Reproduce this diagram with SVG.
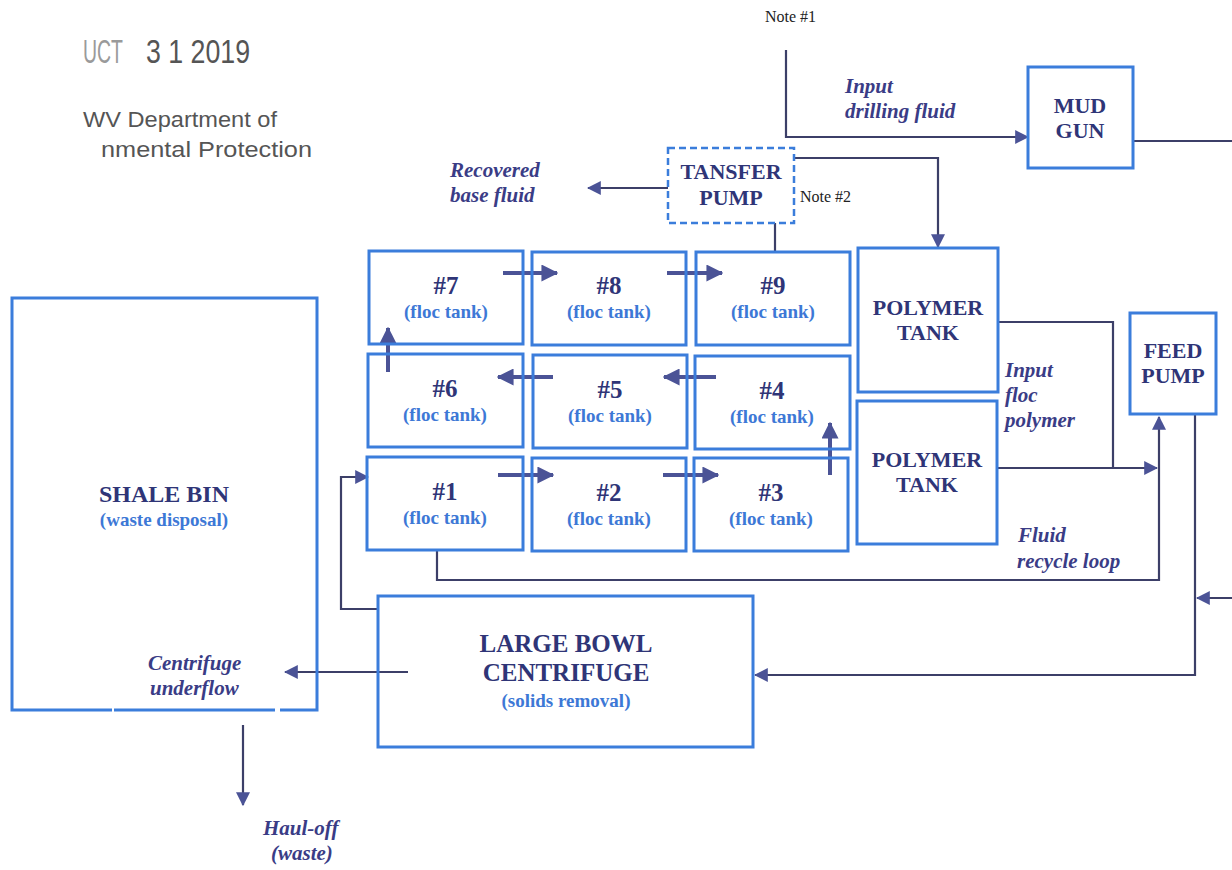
<svg xmlns="http://www.w3.org/2000/svg" width="1232" height="870" viewBox="0 0 1232 870">
<defs>
<style>
.box{fill:none;stroke:#3b7ddb;stroke-width:3}
.dash{fill:none;stroke:#3b7ddb;stroke-width:2.5;stroke-dasharray:7,4}
.t{font-family:"Liberation Serif",serif;font-weight:bold;fill:#2f3577;text-anchor:middle}
.s{font-family:"Liberation Serif",serif;font-weight:bold;fill:#3d78d6;text-anchor:middle}
.i{font-family:"Liberation Serif",serif;font-weight:bold;font-style:italic;fill:#3a3c86;font-size:21px}
.n{font-family:"Liberation Serif",serif;fill:#222;font-size:16px}
.c{fill:none;stroke:#3c3f68;stroke-width:2.2}
.k{fill:none;stroke:#4b5396;stroke-width:4}
.stamp{font-family:"Liberation Sans",sans-serif;fill:#555}
</style>
<marker id="ah" viewBox="0 0 12 12" refX="11" refY="6" markerWidth="14" markerHeight="14" markerUnits="userSpaceOnUse" orient="auto">
<path d="M0,0 L12,6 L0,12 z" fill="#4b5396"/>
</marker>
<marker id="ahk" viewBox="0 0 12 12" refX="11" refY="6" markerWidth="17" markerHeight="17" markerUnits="userSpaceOnUse" orient="auto">
<path d="M0,0 L12,6 L0,12 z" fill="#4b5396"/>
</marker>
</defs>
<rect width="1232" height="870" fill="#fff"/>

<g id="stamp">
<text class="stamp" x="83" y="63" font-size="34" textLength="40" lengthAdjust="spacingAndGlyphs" style="fill:#9a9a9a">UCT</text>
<text class="stamp" x="146" y="63" font-size="34" textLength="104" lengthAdjust="spacingAndGlyphs">3 1 2019</text>
<text class="stamp" x="83" y="127" font-size="22" textLength="194" lengthAdjust="spacingAndGlyphs">WV Department of</text>
<text class="stamp" x="101" y="157" font-size="22" textLength="211" lengthAdjust="spacingAndGlyphs">nmental Protection</text>
</g>

<g id="notes">
<text class="n" x="765" y="22">Note #1</text>
<text class="n" x="800" y="202">Note #2</text>
</g>

<g id="labels">
<text class="i" x="845" y="93">Input</text>
<text class="i" x="845" y="118">drilling fluid</text>
<text class="i" x="450" y="177">Recovered</text>
<text class="i" x="450" y="202">base fluid</text>
<text class="i" x="1005" y="377">Input</text>
<text class="i" x="1005" y="402">floc</text>
<text class="i" x="1005" y="427">polymer</text>
<text class="i" x="1018" y="542">Fluid</text>
<text class="i" x="1017" y="568">recycle loop</text>
<text class="i" x="148" y="670">Centrifuge</text>
<text class="i" x="150" y="695">underflow</text>
<text class="i" x="263" y="835">Haul-off</text>
<text class="i" x="271" y="860">(waste)</text>
</g>

<g id="connectors">
<path class="c" d="M786,50 V137 H1028" marker-end="url(#ah)"/>
<path class="c" d="M1133,141 H1232"/>
<path class="c" d="M1232,598 H1197" marker-end="url(#ah)"/>
<path class="c" d="M1195,414 V675 H755" marker-end="url(#ah)"/>
<path class="c" d="M668,188 H588" marker-end="url(#ah)"/>
<path class="c" d="M794,158 H938 V247" marker-end="url(#ah)"/>
<path class="c" d="M775,223 V251"/>
<path class="c" d="M998,322 H1113 V468"/>
<path class="c" d="M997,468 H1157" marker-end="url(#ah)"/>
<path class="c" d="M437,550 V580 H1159 V417" marker-end="url(#ah)"/>
<path class="c" d="M408,672 H285" marker-end="url(#ah)"/>
<path class="c" d="M378,609 H341 V477 H368" marker-end="url(#ah)"/>
<path class="c" d="M243,725 V805" marker-end="url(#ah)"/>
<path class="k" d="M503,273 H557" marker-end="url(#ahk)"/>
<path class="k" d="M667,273 H722" marker-end="url(#ahk)"/>
<path class="k" d="M716,377 H664" marker-end="url(#ahk)"/>
<path class="k" d="M553,377 H498" marker-end="url(#ahk)"/>
<path class="k" d="M388,372 V328" marker-end="url(#ahk)"/>
<path class="k" d="M498,475 H553" marker-end="url(#ahk)"/>
<path class="k" d="M663,475 H718" marker-end="url(#ahk)"/>
<path class="k" d="M830,475 V423" marker-end="url(#ahk)"/>
</g>

<g id="mud-gun">
<rect class="box" x="1028" y="67" width="105" height="101"/>
<text class="t" x="1080" y="113" font-size="22">MUD</text>
<text class="t" x="1080" y="138" font-size="22">GUN</text>
</g>

<g id="transfer-pump">
<rect class="dash" x="668" y="148" width="126" height="75"/>
<text class="t" x="731" y="179" font-size="22">TANSFER</text>
<text class="t" x="731" y="205" font-size="22">PUMP</text>
</g>

<g id="tank7"><rect class="box" x="369" y="251" width="154" height="93"/><text class="t" x="446" y="294" font-size="25">#7</text><text class="s" x="446" y="318" font-size="19">(floc tank)</text></g>
<g id="tank8"><rect class="box" x="532" y="252" width="154" height="93"/><text class="t" x="609" y="294" font-size="25">#8</text><text class="s" x="609" y="318" font-size="19">(floc tank)</text></g>
<g id="tank9"><rect class="box" x="696" y="252" width="154" height="93"/><text class="t" x="773" y="294" font-size="25">#9</text><text class="s" x="773" y="318" font-size="19">(floc tank)</text></g>
<g id="tank6"><rect class="box" x="368" y="354" width="155" height="93"/><text class="t" x="445" y="397" font-size="25">#6</text><text class="s" x="445" y="421" font-size="19">(floc tank)</text></g>
<g id="tank5"><rect class="box" x="533" y="355" width="154" height="93"/><text class="t" x="610" y="398" font-size="25">#5</text><text class="s" x="610" y="422" font-size="19">(floc tank)</text></g>
<g id="tank4"><rect class="box" x="695" y="356" width="155" height="93"/><text class="t" x="772" y="399" font-size="25">#4</text><text class="s" x="772" y="423" font-size="19">(floc tank)</text></g>
<g id="tank1"><rect class="box" x="367" y="457" width="156" height="93"/><text class="t" x="445" y="500" font-size="25">#1</text><text class="s" x="445" y="524" font-size="19">(floc tank)</text></g>
<g id="tank2"><rect class="box" x="532" y="458" width="154" height="93"/><text class="t" x="609" y="501" font-size="25">#2</text><text class="s" x="609" y="525" font-size="19">(floc tank)</text></g>
<g id="tank3"><rect class="box" x="694" y="458" width="154" height="93"/><text class="t" x="771" y="501" font-size="25">#3</text><text class="s" x="771" y="525" font-size="19">(floc tank)</text></g>

<g id="polymer-tank-1">
<rect class="box" x="858" y="248" width="140" height="144"/>
<text class="t" x="928" y="315" font-size="22">POLYMER</text>
<text class="t" x="928" y="340" font-size="22">TANK</text>
</g>
<g id="polymer-tank-2">
<rect class="box" x="857" y="401" width="140" height="143"/>
<text class="t" x="927" y="467" font-size="22">POLYMER</text>
<text class="t" x="927" y="492" font-size="22">TANK</text>
</g>

<g id="feed-pump">
<rect class="box" x="1130" y="313" width="86" height="101"/>
<text class="t" x="1173" y="358" font-size="22">FEED</text>
<text class="t" x="1173" y="383" font-size="22">PUMP</text>
</g>

<g id="shale-bin">
<path class="box" d="M112,710 H12 V298 H317 V710 H280 M275,710 H114"/>
<text class="t" x="164" y="502" font-size="24">SHALE BIN</text>
<text class="s" x="164" y="526" font-size="19">(waste disposal)</text>
</g>

<g id="centrifuge">
<rect class="box" x="378" y="596" width="375" height="151"/>
<text class="t" x="566" y="652" font-size="25">LARGE BOWL</text>
<text class="t" x="566" y="681" font-size="25">CENTRIFUGE</text>
<text class="s" x="566" y="707" font-size="19">(solids removal)</text>
</g>
</svg>
